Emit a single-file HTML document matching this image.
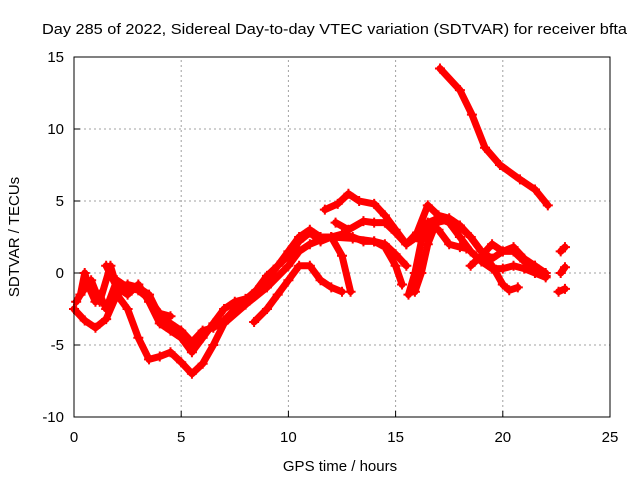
<!DOCTYPE html>
<html><head><meta charset="utf-8"><style>
html,body{margin:0;padding:0;background:#fff;}
svg{display:block;font-family:"Liberation Sans",sans-serif;}
</style></head><body>
<svg id="chart" width="640" height="480">
<text x="42" y="34" font-size="15" textLength="585" lengthAdjust="spacingAndGlyphs">Day 285 of 2022, Sidereal Day-to-day VTEC variation (SDTVAR) for receiver bfta</text>
<text x="340" y="471" font-size="15" text-anchor="middle">GPS time / hours</text>
<text x="19" y="237" font-size="15" text-anchor="middle" transform="rotate(-90 19 237)">SDTVAR / TECUs</text>
<g id="grid"></g><g id="marks"></g><g id="axes"></g>
</svg>
<script>
const xTicks=[0,5,10,15,20,25];
const yTicks=[-10,-5,0,5,10,15];
const s1=[[0,-2.5],[0.5,-3.3],[1,-3.8],[1.5,-3.2],[2,-1.5],[2.5,-2.5],[3,-4.5],[3.5,-6],[4,-5.8],[4.5,-5.5],[5,-6.2],[5.5,-7],[6,-6.3],[6.5,-5],[7,-3.5],[8,-2.2],[9,-1],[10,0.5],[10.5,1.5],[11,2],[11.5,2.3],[12,2.5],[12.5,2.7],[13,2.5],[13.5,2.2],[14,2.2],[14.5,2],[15,1.3],[15.5,0.5]];
const s2=[[0.3,-1.5],[0.8,-0.5],[1.2,-2],[1.7,0.5],[2,-1],[2.5,-1.5],[3,-0.8],[3.5,-2],[4,-3.5],[4.5,-4],[5,-4.5],[5.5,-5.5],[6,-4.5],[6.5,-3.5],[7,-2.5],[7.5,-2],[8,-1.8],[8.5,-1.5],[9,-0.5],[9.5,0.5],[10,1.5],[10.5,2.5],[11,3],[11.5,2.5],[12,2.5],[12.5,1.2],[12.9,-1.3]];
const s3=[[1.5,0.5],[2,-1],[2.5,-0.8],[3,-1],[3.5,-1.5],[4,-3],[4.5,-3.5],[5,-4],[5.5,-4.8],[6,-4],[6.5,-3.8],[7,-3.3],[7.5,-2.5],[8.5,-1.2],[9,-0.2],[9.5,0.5],[10,1.2],[10.5,2.2],[11,2.8],[11.5,2.2],[12,2.5],[13,2.4],[14,2.2],[14.5,1.8],[15,0.5],[15.3,-0.8]];
const s4=[[8.4,-3.4],[9,-2.5],[9.5,-1.5],[10,-0.5],[10.5,0.5],[11,0.5],[11.5,-0.5],[12,-1],[12.5,-1.3]];
const s5=[[11.7,4.4],[12.3,4.8],[12.8,5.5],[13.3,5],[14,4.8],[14.5,4],[15,3],[15.5,2],[16,2.8],[16.5,4.7],[17,4],[17.5,3.8],[18,3.3],[18.5,2.5],[19,1.5],[19.5,1],[20,1.5],[20.5,1.5],[21,0.8],[21.5,0.5],[22,-0.2]];
const s6=[[12.2,3.5],[12.8,3],[13.5,3.6],[14,3.5],[14.5,3.5],[15,2.8],[15.5,2],[16,2.5],[16.5,3.5],[17,3.8],[17.5,3.5],[18,2.5],[18.5,1.5],[19,0.8],[19.5,0.3],[20,0.3],[20.5,0.5],[21,0.3],[21.5,0],[22,-0.3]];
const s7=[[15.6,-1.5],[15.9,0],[16.2,2.2],[16.6,3.2],[17,3],[17.5,2],[18,1.8],[18.3,1.7]];
const s8=[[15.9,-1.3],[16.2,0],[16.5,2],[16.9,3.5],[17.5,3.7],[18,3.2],[18.5,2.5],[19,1.5],[19.5,0.5],[20,-0.8],[20.3,-1.2],[20.7,-1]];
const s9=[[18.5,0.5],[19,1.2],[19.5,2],[20,1.5],[20.5,1.8],[21,1],[21.5,0.5],[22,0]];
const s10=[[17.07,14.2],[18.0,12.7],[18.56,11],[19.17,8.7],[19.87,7.5],[20.8,6.5],[21.5,5.8],[22.1,4.7]];
const s11=[[0.1,-2],[0.3,-1.5],[0.5,0],[0.7,-1],[1,-2],[1.2,-1.5],[1.5,-2.5],[2,-0.5],[2.5,-1],[3,-1.2],[3.5,-1.8],[4,-2.8],[4.5,-3]];
const s12=[[22.7,1.5],[22.9,1.8]];
const s13=[[22.7,0],[22.9,0.4]];
const s14=[[22.6,-1.3],[22.9,-1.1]];
const allSeries=[s1,s2,s3,s4,s5,s6,s7,s8,s9,s10,s11,s12,s13,s14];
const X0=74,X1=610,Y0=417,Y1=57;
function xs(t){return X0+(t-0)/(25-0)*(X1-X0);}
function ys(v){return Y0-(v+10)/(25)*(Y0-Y1);}
const NS="http://www.w3.org/2000/svg";
const grid=document.getElementById('grid'),marks=document.getElementById('marks'),axes=document.getElementById('axes');
function mk(tag,attrs,parent){const e=document.createElementNS(NS,tag);for(const k in attrs)e.setAttribute(k,attrs[k]);parent.appendChild(e);return e;}
xTicks.forEach(t=>{
 if(t>0&&t<25){const g=mk('line',{x1:xs(t),x2:xs(t),y1:Y0,y2:Y1,stroke:'#a0a0a0','stroke-dasharray':'2,3'},grid);
 
 }
 const tk=mk('line',{x1:xs(t),x2:xs(t),y1:Y0,y2:Y0-6,stroke:'#000'},axes);
 
 
 const lb=mk('text',{x:xs(t),y:Y0+25,'font-size':15,'text-anchor':'middle'},axes);lb.textContent=t;
 
 
});
yTicks.forEach(v=>{
 if(v>-10&&v<15){const g=mk('line',{x1:X0,x2:X1,y1:ys(v),y2:ys(v),stroke:'#a0a0a0','stroke-dasharray':'2,3'},grid);
 
 }
 const tk=mk('line',{x1:X0,x2:X0+6,y1:ys(v),y2:ys(v),stroke:'#000'},axes);
 
 
 const lb=mk('text',{x:X0-10,y:ys(v)+5,'font-size':15,'text-anchor':'end'},axes);lb.textContent=v;
 
 
});
const fr=mk('rect',{x:X0,y:Y1,width:X1-X0,height:Y0-Y1,fill:'none',stroke:'#000'},axes);


allSeries.forEach((s,i)=>{
 const pl=mk('polyline',{points:s.map(p=>xs(p[0])+','+ys(p[1])).join(' '),fill:'none',stroke:'#f00','stroke-width':7,'stroke-linejoin':'round','stroke-linecap':'round'},marks);
 
 
 s.forEach(p=>{
  const px=xs(p[0]),py=ys(p[1]);
  const m=mk('path',{d:`M${px-5},${py}H${px+5}M${px},${py-5}V${py+5}`,stroke:'#f00','stroke-width':2},marks);
  
  
 });
});
</script>
</body></html>
